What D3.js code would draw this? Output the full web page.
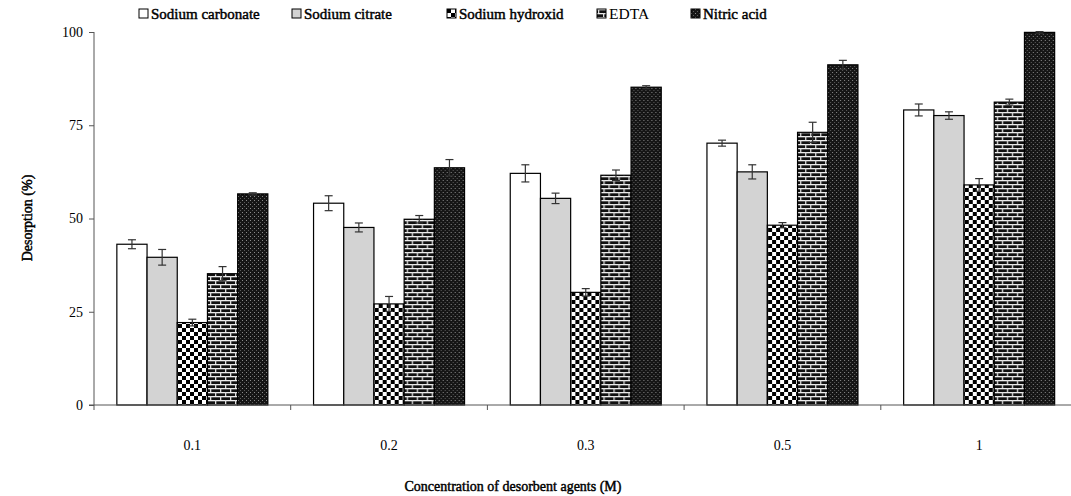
<!DOCTYPE html>
<html>
<head>
<meta charset="utf-8">
<script src="https://cdn.jsdelivr.net/npm/d3@7"></script>
<style>
  body { margin: 0; background: #fff; }
  svg { display: block; }
  text { font-family: "Liberation Serif", "Times New Roman", serif; fill: #000; }
  .heavy { stroke: #000; stroke-width: 0.45px; }
</style>
</head>
<body>
<svg id="canvas" width="1071" height="496"></svg>
<script>
let categories = ['0.1', '0.2', '0.3', '0.5', '1']
let seriesNames = ['Sodium carbonate', 'Sodium citrate', 'Sodium hydroxid', 'EDTA', 'Nitric acid']

// desorption (%) per agent, one value per concentration
let carbonate = [43.1, 54.1, 62.1, 70.2, 79.1]
let citrate   = [39.6, 47.6, 55.4, 62.5, 77.6]
let hydroxid  = [22.1, 27.1, 30.2, 48.2, 59.0]
let edta      = [35.2, 49.8, 61.6, 73.1, 81.2]
let nitric    = [56.6, 63.6, 85.2, 91.2, 99.9]

// error (+/-)
let carbonateErr = [1.2, 2.0, 2.3, 0.8, 1.6]
let citrateErr   = [2.1, 1.2, 1.4, 1.9, 1.0]
let hydroxidErr  = [0.9, 2.0, 1.0, 0.7, 1.7]
let edtaErr      = [1.9, 1.0, 1.4, 2.7, 0.8]
let nitricErr    = [0.3, 2.2, 0.4, 1.2, 0.2]

let yTicks = [0, 25, 50, 75, 100]

let values = [carbonate, citrate, hydroxid, edta, nitric]
let errors = [carbonateErr, citrateErr, hydroxidErr, edtaErr, nitricErr]

let canvas = d3.select('#canvas')

// patterns for the fills
let defs = canvas.append('defs')

let checker = defs.append('pattern').attr('id', 'checker')
    .attr('patternUnits', 'userSpaceOnUse').attr('width', 8).attr('height', 8)
checker.append('rect').attr('width', 8).attr('height', 8).attr('fill', '#fff')
checker.append('rect').attr('width', 4).attr('height', 4).attr('fill', '#000')
checker.append('rect').attr('x', 4).attr('y', 4).attr('width', 4).attr('height', 4).attr('fill', '#000')

let brick = defs.append('pattern').attr('id', 'brick')
    .attr('patternUnits', 'userSpaceOnUse').attr('width', 10).attr('height', 8)
brick.append('rect').attr('width', 10).attr('height', 8).attr('fill', '#111')
brick.append('rect').attr('x', 0).attr('y', 0).attr('width', 10).attr('height', 1.3).attr('fill', '#eee')
brick.append('rect').attr('x', 0).attr('y', 4).attr('width', 10).attr('height', 1.3).attr('fill', '#eee')
brick.append('rect').attr('x', 1).attr('y', 0).attr('width', 1.3).attr('height', 4).attr('fill', '#ddd')
brick.append('rect').attr('x', 6).attr('y', 4).attr('width', 1.3).attr('height', 4).attr('fill', '#ddd')

let dots = defs.append('pattern').attr('id', 'dots')
    .attr('patternUnits', 'userSpaceOnUse').attr('width', 4).attr('height', 4)
dots.append('rect').attr('width', 4).attr('height', 4).attr('fill', '#151515')
dots.append('rect').attr('x', 0).attr('y', 0).attr('width', 1).attr('height', 1).attr('fill', '#8a8a8a')
dots.append('rect').attr('x', 2).attr('y', 2).attr('width', 1).attr('height', 1).attr('fill', '#5a5a5a')

let fills = ['#ffffff', '#d3d3d3', 'url(#checker)', 'url(#brick)', 'url(#dots)']

// scales
let x0 = d3.scaleBand().domain(categories).range([94, 1077.5])
let groupW = 151
let x1 = d3.scaleBand().domain(d3.range(seriesNames.length))
    .range([(x0.bandwidth() - groupW) / 2, (x0.bandwidth() + groupW) / 2])
let y = d3.scaleLinear().domain([0, 100]).range([405, 32])

// bars
let groups = canvas.selectAll('g.cat')
    .data(categories)
    .enter()
    .append('g')
    .attr('class', 'cat')
    .attr('transform', (d) => 'translate(' + x0(d) + ',0)')

groups.selectAll('rect')
    .data((d, i) => values.map((s, k) => ({ k: k, v: s[i], e: errors[k][i] })))
    .enter()
    .append('rect')
    .attr('x', (d) => x1(d.k))
    .attr('y', (d) => y(d.v))
    .attr('width', x1.bandwidth())
    .attr('height', (d) => y(0) - y(d.v))
    .attr('fill', (d) => fills[d.k])
    .attr('stroke', '#000')
    .attr('stroke-width', 1.2)

// error bars
let errG = groups.selectAll('g.err')
    .data((d, i) => values.map((s, k) => ({ k: k, v: s[i], e: errors[k][i] })))
    .enter()
    .append('g')
    .attr('class', 'err')
    .attr('stroke', '#333')
    .attr('stroke-width', 1.2)

errG.append('line')
    .attr('x1', (d) => x1(d.k) + x1.bandwidth() / 2)
    .attr('x2', (d) => x1(d.k) + x1.bandwidth() / 2)
    .attr('y1', (d) => y(d.v - d.e))
    .attr('y2', (d) => y(Math.min(d.v + d.e, 100.5)))
errG.selectAll('line.cap')
    .data((d) => [d.v - d.e, Math.min(d.v + d.e, 100.5)].map((v) => ({ k: d.k, v: v })))
    .enter()
    .append('line')
    .attr('class', 'cap')
    .attr('x1', (d) => x1(d.k) + x1.bandwidth() / 2 - 4)
    .attr('x2', (d) => x1(d.k) + x1.bandwidth() / 2 + 4)
    .attr('y1', (d) => y(d.v))
    .attr('y2', (d) => y(d.v))

// y axis
let yAxis = canvas.append('g')
    .attr('transform', 'translate(94,0)')
    .call(d3.axisLeft(y).tickValues(yTicks).tickSize(5).tickPadding(6))
yAxis.select('.domain').attr('stroke', '#555').attr('d', 'M0,32V410')
yAxis.selectAll('.tick line').attr('stroke', '#555')
yAxis.selectAll('.tick text')
    .attr('font-size', 14)
    .attr('font-family', '"Liberation Serif", serif')
    .attr('fill', '#000')

// x axis line with ticks between categories
let xAxis = canvas.append('g')
xAxis.append('line')
    .attr('x1', 89).attr('x2', 1071)
    .attr('y1', y(0)).attr('y2', y(0))
    .attr('stroke', '#555').attr('stroke-width', 1)
xAxis.selectAll('line.sep')
    .data(categories.slice(1))
    .enter()
    .append('line')
    .attr('class', 'sep')
    .attr('x1', (d) => x0(d)).attr('x2', (d) => x0(d))
    .attr('y1', y(0)).attr('y2', y(0) + 5)
    .attr('stroke', '#555')
xAxis.selectAll('text')
    .data(categories)
    .enter()
    .append('text')
    .attr('x', (d) => x0(d) + x0.bandwidth() / 2)
    .attr('y', 450)
    .attr('text-anchor', 'middle')
    .attr('font-size', 14)
    .text((d) => d)

// axis titles
canvas.append('text')
    .attr('class', 'heavy')
    .attr('transform', 'translate(32,218) rotate(-90)')
    .attr('text-anchor', 'middle')
    .attr('font-size', 14)
    .text('Desorption (%)')

canvas.append('text')
    .attr('class', 'heavy')
    .attr('x', 513)
    .attr('y', 491)
    .attr('text-anchor', 'middle')
    .attr('font-size', 14)
    .text('Concentration of desorbent agents (M)')

// legend
let legendX = [139, 292, 447, 597, 691]
let legend = canvas.selectAll('g.legend')
    .data(seriesNames)
    .enter()
    .append('g')
    .attr('class', 'legend')
    .attr('transform', (d, i) => 'translate(' + legendX[i] + ',9)')
legend.append('rect')
    .attr('width', 9).attr('height', 9)
    .attr('fill', (d, i) => fills[i])
    .attr('stroke', '#000')
legend.append('text')
    .attr('class', (d) => d === 'EDTA' ? '' : 'heavy')
    .attr('x', 12)
    .attr('y', 10)
    .attr('font-size', (d) => d === 'EDTA' ? 15.5 : 15)
    .text((d) => d)
</script>
</body>
</html>
